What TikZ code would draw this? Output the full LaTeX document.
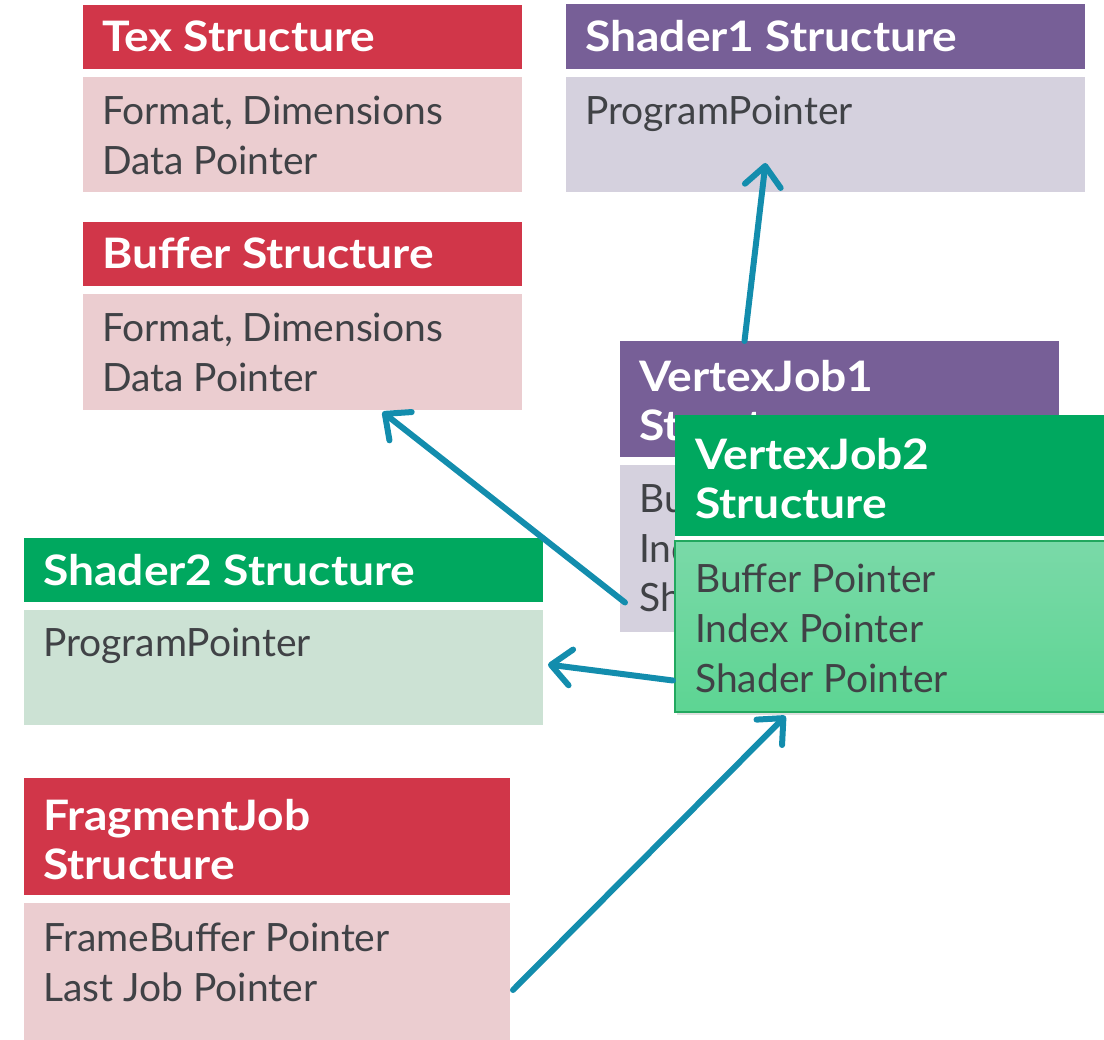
\documentclass[tikz,border=0pt]{standalone}
\usepackage{fontspec}
\setmainfont{Lato}
\newfontfamily\hdfont{Lato}[FakeStretch=1.1]
\usetikzlibrary{arrows.meta,shadows}

\definecolor{texred}{HTML}{D13649}
\definecolor{texpink}{HTML}{EBCDD0}
\definecolor{shpurple}{HTML}{775F97}
\definecolor{shlilac}{HTML}{D5D1DE}
\definecolor{shgreen}{HTML}{00A85F}
\definecolor{shmint}{HTML}{CCE2D4}
\definecolor{vjtop}{HTML}{7AD9A8}
\definecolor{vjbot}{HTML}{5DD593}
\definecolor{vjedge}{HTML}{22A85F}
\definecolor{txtgray}{HTML}{404246}
\definecolor{ptrblue}{HTML}{138DAD}

\tikzset{
  hd/.style={fill=#1, anchor=north west, inner sep=0pt, outer sep=0pt},
  bd/.style={fill=#1, anchor=north west, inner sep=0pt, outer sep=0pt},
  % base anchor sits on the last line
  htxt/.style={anchor=base west, align=left, text=white, inner sep=0pt,
    font=\hdfont\fontsize{42}{49}\selectfont\bfseries},
  btxt/.style={anchor=base west, align=left, text=txtgray, inner sep=0pt,
    font=\fontsize{39}{50}\selectfont},
  ptr/.style={draw=ptrblue, line width=6pt, line cap=round,
    -{Straight Barb[length=20pt,width=36pt,round]}}
}

\begin{document}
\begin{tikzpicture}[x=1pt,y=-1pt]
  \useasboundingbox (0,0) rectangle (1104,1040);
  % Tex
  \node[hd=texred, minimum width=439pt, minimum height=64pt] (texhd) at (83,5) {};
  \node[htxt] (texhdt) at (102,52) {Tex Structure};
  \node[bd=texpink, minimum width=439pt, minimum height=115pt] (texbd) at (83,77) {};
  \node[btxt] (texbdt) at (102,175) {Format, Dimensions\\Data Pointer};
  % Buffer
  \node[hd=texred, minimum width=439pt, minimum height=64pt] (bufhd) at (83,222) {};
  \node[htxt] (bufhdt) at (102,269) {Buffer Structure};
  \node[bd=texpink, minimum width=439pt, minimum height=116pt] (bufbd) at (83,294) {};
  \node[btxt] (bufbdt) at (102,392) {Format, Dimensions\\Data Pointer};
  % Shader1
  \node[hd=shpurple, minimum width=519pt, minimum height=65pt] (shonehd) at (566,4) {};
  \node[htxt] (shonehdt) at (585,52) {Shader1 Structure};
  \node[bd=shlilac, minimum width=519pt, minimum height=115pt] (shonebd) at (566,77) {};
  \node[btxt] (shonebdt) at (585,125) {ProgramPointer};
  % Shader2
  \node[hd=shgreen, minimum width=519pt, minimum height=64pt] (shtwohd) at (24,538) {};
  \node[htxt] (shtwohdt) at (43,586) {Shader2 Structure};
  \node[bd=shmint, minimum width=519pt, minimum height=115pt] (shtwobd) at (24,610) {};
  \node[btxt] (shtwobdt) at (43,656) {ProgramPointer};
  % FragmentJob
  \node[hd=texred, minimum width=486pt, minimum height=117pt] (fraghd) at (24,778) {};
  \node[htxt] (fraghdt) at (43,879) {FragmentJob\\Structure};
  \node[bd=texpink, minimum width=486pt, minimum height=142pt] (fragbd) at (24,903) {};
  \node[btxt] (fragbdt) at (43,1001) {FrameBuffer Pointer\\Last Job Pointer};
  % VertexJob1
  \node[hd=shpurple, minimum width=439pt, minimum height=116pt] (vjonehd) at (620,341) {};
  \node[htxt] (vjonehdt) at (639,441) {VertexJob1\\Structure};
  \node[bd=shlilac, minimum width=439pt, minimum height=167pt] (vjonebd) at (620,465) {};
  \node[btxt] (vjonebdt) at (639,612) {Buffer Pointer\\Index Pointer\\Shader Pointer};
  % VertexJob2 (on top)
  \node[hd=shgreen, minimum width=431pt, minimum height=121pt] (vjtwohd) at (675,415) {};
  \node[htxt] (vjtwohdt) at (695,519) {VertexJob2\\Structure};
  \fill[white] (vjtwohd.south west) rectangle ([yshift=-6pt]vjtwohd.south east);
  \node[anchor=north west, inner sep=0pt, outer sep=0pt, draw=vjedge, line width=2pt,
    top color=vjtop, bottom color=vjbot, minimum width=431pt, minimum height=171pt,
    drop shadow={opacity=0.25, shadow xshift=2pt, shadow yshift=-3pt}] (vjtwobd) at (675,541) {};
  \node[btxt] (vjtwobdt) at (695,692) {Buffer Pointer\\Index Pointer\\Shader Pointer};
  % pointers
  \draw[ptr] ([xshift=5pt,yshift=-54pt]vjonebd.west) -- ([xshift=80pt,yshift=-2pt]bufbd.south);
  \draw[ptr] ([xshift=-95pt]vjonehd.north) -- ([xshift=-60pt,yshift=29pt]shonebd.south);
  \draw[ptr] ([xshift=-2pt,yshift=-54pt]vjtwobd.west) -- ([xshift=5pt,yshift=3pt]shtwobd.east);
  \draw[ptr] ([xshift=3pt,yshift=-16pt]fragbd.east) -- ([xshift=-105pt,yshift=-4pt]vjtwobd.south);
\end{tikzpicture}
\end{document}
